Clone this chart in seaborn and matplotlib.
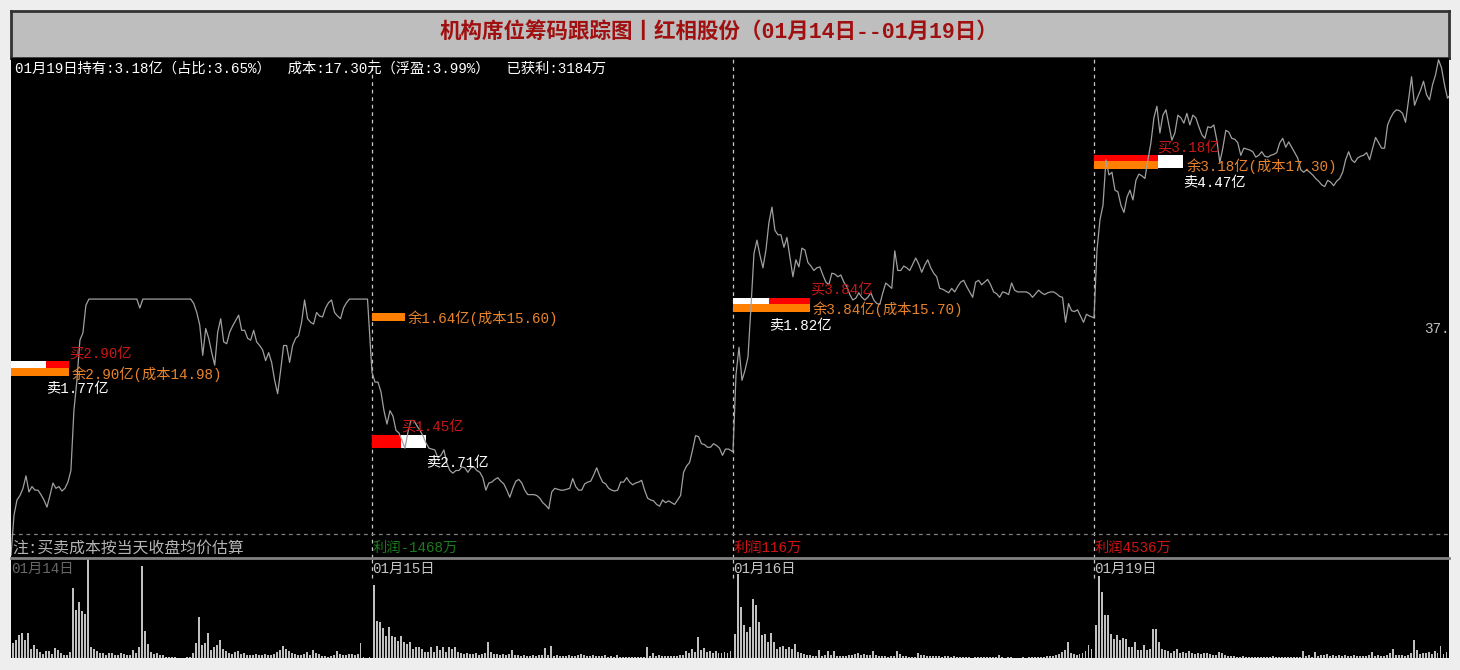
import numpy as np
import pandas as pd
import matplotlib
matplotlib.use('Agg')
import matplotlib.pyplot as plt
import seaborn as sns

# 2-minute samples, 120 per session
price_0114 = [12.93, 13.38, 13.55, 13.60, 13.68, 13.82, 13.64, 13.70, 13.66, 13.66,
              13.61, 13.55, 13.47, 13.60, 13.74, 13.68, 13.70, 13.65, 13.68, 13.75,
              13.88, 14.55, 14.89, 15.34, 15.42, 15.73, 15.80, 15.80, 15.80, 15.80,
              15.80, 15.80, 15.80, 15.80, 15.80, 15.80, 15.80, 15.80, 15.80, 15.80,
              15.80, 15.80, 15.80, 15.70, 15.80, 15.80, 15.80, 15.80, 15.80, 15.80,
              15.80, 15.80, 15.80, 15.80, 15.80, 15.80, 15.80, 15.80, 15.80, 15.80,
              15.80, 15.75, 15.65, 15.51, 15.17, 15.47, 15.36, 15.20, 15.06, 15.43,
              15.58, 15.32, 15.30, 15.43, 15.50, 15.56, 15.62, 15.45, 15.45, 15.36,
              15.34, 15.45, 15.32, 15.28, 15.23, 15.11, 15.20, 15.09, 14.89, 14.74,
              15.00, 15.28, 15.28, 15.09, 15.28, 15.36, 15.39, 15.54, 15.79, 15.58,
              15.54, 15.52, 15.65, 15.61, 15.60, 15.70, 15.76, 15.79, 15.65, 15.61,
              15.58, 15.70, 15.76, 15.80, 15.80, 15.80, 15.80, 15.80, 15.80, 15.80]
price_0115 = [14.98, 14.87, 14.87, 14.76, 14.55, 14.40, 14.55, 14.49, 14.33, 14.30,
              14.22, 14.13, 14.31, 14.44, 14.44, 14.38, 14.33, 14.27, 14.19, 14.13,
              14.12, 14.11, 14.02, 14.05, 14.11, 13.96, 13.88, 13.85, 13.88, 13.88,
              13.92, 13.91, 13.86, 13.91, 13.92, 13.88, 13.86, 13.80, 13.66, 13.74,
              13.75, 13.78, 13.80, 13.76, 13.73, 13.66, 13.58, 13.68, 13.76, 13.78,
              13.74, 13.66, 13.61, 13.61, 13.61, 13.60, 13.57, 13.52, 13.49, 13.45,
              13.64, 13.68, 13.67, 13.66, 13.66, 13.67, 13.68, 13.79, 13.70, 13.66,
              13.66, 13.73, 13.75, 13.76, 13.83, 13.91, 13.82, 13.75, 13.73, 13.68,
              13.66, 13.65, 13.66, 13.75, 13.75, 13.80, 13.75, 13.72, 13.74, 13.75,
              13.77, 13.66, 13.57, 13.55, 13.54, 13.50, 13.48, 13.55, 13.52, 13.54,
              13.52, 13.50, 13.55, 13.60, 13.86, 13.93, 13.97, 14.11, 14.27, 14.26,
              14.18, 14.17, 14.14, 14.14, 14.18, 14.16, 14.13, 14.05, 14.12, 14.12]
price_0116 = [14.09, 14.95, 15.26, 14.89, 15.00, 15.15, 15.71, 16.31, 16.46, 16.29,
              16.15, 16.35, 16.66, 16.83, 16.57, 16.52, 16.52, 16.38, 16.49, 16.27,
              16.05, 16.24, 16.16, 16.37, 16.35, 16.21, 16.17, 16.12, 16.15, 16.16,
              16.07, 15.99, 15.96, 16.09, 16.08, 16.05, 16.07, 15.99, 15.94, 15.85,
              15.79, 15.81, 15.87, 15.82, 15.79, 15.82, 15.87, 15.79, 15.75, 15.74,
              15.87, 15.98, 15.95, 15.92, 16.34, 16.12, 16.12, 16.17, 16.15, 16.12,
              16.19, 16.26, 16.19, 16.10, 16.18, 16.24, 16.15, 16.09, 16.05, 15.92,
              15.91, 15.89, 15.87, 15.92, 15.88, 15.94, 15.99, 16.01, 15.94, 15.88,
              15.82, 15.99, 16.01, 15.96, 15.99, 16.02, 15.96, 15.88, 15.86, 15.82,
              15.88, 15.87, 15.85, 15.98, 15.90, 15.88, 15.88, 15.88, 15.88, 15.86,
              15.82, 15.86, 15.90, 15.87, 15.85, 15.87, 15.88, 15.88, 15.86, 15.83,
              15.82, 15.54, 15.75, 15.67, 15.66, 15.68, 15.61, 15.54, 15.63, 15.61]
price_0119 = [15.59, 16.35, 16.69, 16.85, 17.36, 17.19, 17.22, 17.02, 17.00, 16.85,
              16.77, 16.94, 17.02, 16.91, 17.13, 17.20, 17.18, 17.15, 17.36, 17.55,
              17.83, 17.96, 17.66, 17.86, 17.92, 17.75, 17.58, 17.66, 17.86, 17.83,
              17.77, 17.88, 17.75, 17.86, 17.83, 17.73, 17.64, 17.60, 17.73, 17.72,
              17.75, 17.58, 17.33, 17.49, 17.69, 17.67, 17.60, 17.59, 17.55, 17.41,
              17.49, 17.48, 17.47, 17.45, 17.39, 17.41, 17.45, 17.40, 17.39, 17.41,
              17.42, 17.44, 17.55, 17.60, 17.50, 17.56, 17.50, 17.44, 17.38, 17.25,
              17.22, 17.25, 17.22, 17.19, 17.15, 17.12, 17.08, 17.06, 17.13, 17.11,
              17.07, 17.12, 17.15, 17.22, 17.36, 17.45, 17.36, 17.33, 17.38, 17.40,
              17.41, 17.44, 17.36, 17.49, 17.61, 17.55, 17.49, 17.49, 17.75, 17.83,
              17.89, 17.92, 17.91, 17.88, 17.78, 18.03, 18.29, 17.97, 18.06, 18.14,
              18.24, 18.09, 18.03, 18.20, 18.31, 18.48, 18.39, 18.20, 18.05, 18.09]

volume_0114 = [15, 18, 23, 25, 18, 25, 9, 13, 9, 6,
               4, 7, 7, 4, 10, 8, 5, 3, 3, 6,
               70, 48, 56, 47, 44, 104, 11, 9, 7, 5,
               5, 3, 5, 5, 3, 3, 5, 4, 3, 3,
               8, 5, 11, 92, 27, 14, 6, 4, 5, 3,
               3, 1, 1, 1, 1, 0, 0, 0, 1, 1,
               5, 15, 41, 13, 15, 25, 8, 11, 13, 18,
               9, 7, 5, 4, 6, 7, 4, 5, 3, 3,
               3, 4, 3, 3, 4, 3, 3, 4, 6, 8,
               12, 9, 7, 5, 4, 3, 3, 4, 6, 3,
               8, 5, 4, 2, 2, 1, 2, 3, 7, 4,
               3, 3, 4, 4, 3, 4, 15, 1, 0, 1]
volume_0115 = [73, 37, 36, 30, 22, 31, 22, 21, 17, 22,
               16, 14, 16, 9, 11, 11, 9, 6, 6, 11,
               6, 12, 8, 11, 6, 11, 9, 11, 6, 5,
               4, 5, 4, 4, 5, 3, 4, 5, 16, 6,
               4, 4, 3, 4, 3, 4, 8, 3, 3, 2,
               3, 2, 2, 3, 2, 3, 3, 10, 3, 12,
               2, 3, 2, 2, 2, 3, 2, 2, 3, 4,
               3, 2, 2, 3, 2, 2, 2, 3, 1, 2,
               1, 3, 1, 1, 1, 1, 1, 1, 1, 1,
               1, 11, 2, 5, 2, 3, 2, 2, 2, 2,
               2, 2, 3, 3, 7, 5, 9, 6, 21, 8,
               10, 6, 7, 5, 7, 5, 5, 6, 5, 7]
volume_0116 = [24, 84, 51, 33, 26, 31, 59, 53, 36, 23,
               24, 16, 25, 16, 9, 11, 12, 9, 11, 9,
               14, 6, 5, 4, 3, 3, 2, 2, 8, 2,
               3, 7, 3, 7, 2, 2, 2, 2, 3, 3,
               4, 5, 3, 4, 3, 3, 7, 3, 2, 2,
               2, 1, 2, 2, 7, 4, 2, 2, 1, 1,
               1, 5, 3, 3, 2, 2, 2, 2, 2, 1,
               2, 2, 1, 2, 1, 1, 1, 1, 1, 0,
               1, 1, 1, 1, 1, 1, 1, 1, 3, 1,
               0, 1, 1, 0, 0, 0, 1, 0, 1, 1,
               1, 1, 1, 1, 2, 2, 2, 3, 4, 6,
               8, 16, 5, 4, 3, 4, 5, 7, 13, 9]
volume_0119 = [33, 82, 66, 43, 43, 24, 19, 23, 18, 20,
               19, 11, 11, 16, 8, 8, 13, 8, 9, 29,
               29, 16, 9, 8, 7, 5, 7, 9, 5, 6,
               5, 7, 5, 4, 5, 4, 5, 5, 4, 3,
               3, 6, 5, 3, 2, 2, 2, 1, 1, 2,
               1, 1, 1, 1, 1, 1, 1, 1, 1, 2,
               1, 1, 1, 1, 1, 1, 1, 1, 1, 7,
               2, 3, 1, 6, 2, 3, 3, 4, 2, 3,
               2, 3, 2, 3, 2, 2, 3, 2, 2, 2,
               2, 3, 6, 2, 3, 2, 2, 3, 5, 9,
               3, 3, 3, 2, 3, 5, 18, 8, 4, 5,
               5, 6, 4, 7, 5, 12, 4, 6, 12, 11]

day_labels = ['01月14日', '01月15日', '01月16日', '01月19日']
day_label_colors = ['#666666', '#c4c4c4', '#c4c4c4', '#c4c4c4']
buy_amount = [2.90, 1.45, 3.84, 3.18]
sell_amount = [1.77, 2.71, 1.82, 4.47]
hold_amount = [2.90, 1.64, 3.84, 3.18]
hold_cost = [14.98, 15.60, 15.70, 17.30]
trade_price = [15.03, 14.21, 15.74, 17.34]
profit_labels = ['注:买卖成本按当天收盘均价估算', '利润-1468万', '利润116万', '利润4536万']
profit_colors = ['#b4b4b4', '#1c7a1c', '#d01414', '#d01414']
profit_sizes = [11.4, 10.3, 10.3, 10.3]

title = '机构席位筹码跟踪图丨红相股份（01月14日--01月19日）'
summary = '01月19日持有:3.18亿（占比:3.65%）  成本:17.30元（浮盈:3.99%）  已获利:3184万'

W, H = 1460, 670
PX_PER_MIN = 1438 / 960
PX_PER_PRICE = 1 / 0.0112
MIN_PER_YI = 20 / PX_PER_MIN
DAY_MINUTES = 241
FONT = 10.3

sns.set_theme(style='dark')
plt.rcParams['font.family'] = ['Liberation Mono', 'Noto Sans CJK SC', 'DejaVu Sans']
plt.rcParams['axes.unicode_minus'] = False

prices = [price_0114, price_0115, price_0116, price_0119]
volumes = [volume_0114, volume_0115, volume_0116, volume_0119]
frames = []
for d in range(4):
    frames.append(pd.DataFrame({'minute': d * DAY_MINUTES + np.arange(120) * 2,
                                'price': prices[d], 'volume': volumes[d]}))
df = pd.concat(frames, ignore_index=True)
df['bar_minute'] = df['minute'] + 1.33


def make_axes(top, bottom):
    return fig.add_axes([11 / W, (H - bottom) / H, 1438 / W, (bottom - top) / H])


fig = plt.figure(figsize=(W / 100, H / 100), dpi=100, facecolor='#eeeeee')

ax_title = make_axes(11, 58)
ax_title.set_facecolor('#bebebe')
ax_title.set_xticks([])
ax_title.set_yticks([])
for s in ax_title.spines.values():
    s.set_color('#333333')
    s.set_linewidth(2)
ax_title.text(0.4925, 0.54, title, transform=ax_title.transAxes, ha='center', va='center',
              color='#a01010', fontsize=15.5, fontweight='bold')

ax = make_axes(58, 558)
ax.set_facecolor('black')
for s in ax.spines.values():
    s.set_visible(False)

# bars first, the price line runs over them
for d in range(4):
    start = d * DAY_MINUTES
    trades = sorted([(buy_amount[d], '#ff0000'), (sell_amount[d], '#ffffff')], reverse=True)
    for amount, color in trades:
        ax.barh(trade_price[d], amount * MIN_PER_YI, left=start, height=13 / PX_PER_PRICE,
                color=color, linewidth=0, zorder=2)
    ax.barh(hold_cost[d], hold_amount[d] * MIN_PER_YI, left=start, height=8 / PX_PER_PRICE,
            color='#ff8000', linewidth=0, zorder=2)

sns.lineplot(data=df, x='minute', y='price', estimator=None, sort=False, color='#a0a0a0',
             linewidth=0.9, ax=ax, zorder=3)

for d in range(4):
    start = d * DAY_MINUTES
    ax.text(start + buy_amount[d] * MIN_PER_YI, trade_price[d] + 14.5 / PX_PER_PRICE,
            f'买{buy_amount[d]:.2f}亿', color='#c81818', fontsize=FONT, va='center', zorder=4)
    ax.text(start + sell_amount[d] * MIN_PER_YI, trade_price[d] - 21.5 / PX_PER_PRICE,
            f'卖{sell_amount[d]:.2f}亿', color='#ffffff', fontsize=FONT, va='center', zorder=4)
    end = hold_amount[d]
    if abs(hold_cost[d] - trade_price[d]) < 0.2:
        end = max(end, buy_amount[d], sell_amount[d])
    ax.text(start + end * MIN_PER_YI + 3 / PX_PER_MIN, hold_cost[d] - 1.5 / PX_PER_PRICE,
            f'余{hold_amount[d]:.2f}亿(成本{hold_cost[d]:.2f})', color='#e8842c', fontsize=FONT,
            va='center', zorder=4)
    ax.text(start + 1 / PX_PER_MIN, 13.01, profit_labels[d], color=profit_colors[d],
            fontsize=profit_sizes[d], va='center', zorder=4)
    if d > 0:
        ax.axvline(d * DAY_MINUTES, color='#c8c8c8', lw=0.9, ls=(0, (3, 3)), zorder=1)

ax.axhline(13.17, color='#808080', lw=0.9, ls=(0, (3, 3)), zorder=1)
# the reference cuts this label off at the panel edge too
ax.text(1413 / PX_PER_MIN, 15.46, '37.82', color='#c0c0c0', fontsize=FONT, va='center', clip_on=True)
ax.text(4 / PX_PER_MIN, 18.38, summary, color='#ffffff', fontsize=FONT, va='center', zorder=4)
ax.set_xlim(0, 960)
ax.set_ylim(12.90, 18.50)
ax.set_xticks([])
ax.set_yticks([])
ax.set_xlabel('')
ax.set_ylabel('')

ax_vol = make_axes(558, 658)
ax_vol.set_facecolor('black')
sns.barplot(data=df, x='bar_minute', y='volume', native_scale=True, width=0.66, color='#c0c0c0',
            errorbar=None, saturation=1, linewidth=0, ax=ax_vol)
for patch in ax_vol.patches:
    patch.set_antialiased(False)
for d in range(4):
    ax_vol.text(d * DAY_MINUTES, 89, day_labels[d], color=day_label_colors[d], fontsize=FONT,
                va='center', zorder=4)
    if d > 0:
        ax_vol.plot([d * DAY_MINUTES] * 2, [80, 100], color='#c8c8c8', lw=0.9, ls=(0, (3, 3)))
for s in ax_vol.spines.values():
    s.set_visible(False)
ax_vol.spines['top'].set_visible(True)
ax_vol.spines['top'].set_color('#808080')
ax_vol.spines['top'].set_linewidth(2)
ax_vol.set_xlim(0, 960)
ax_vol.set_ylim(0, 100)
ax_vol.set_xticks([])
ax_vol.set_yticks([])
ax_vol.set_xlabel('')
ax_vol.set_ylabel('')

fig.savefig('out.png', dpi=100, facecolor=fig.get_facecolor())
